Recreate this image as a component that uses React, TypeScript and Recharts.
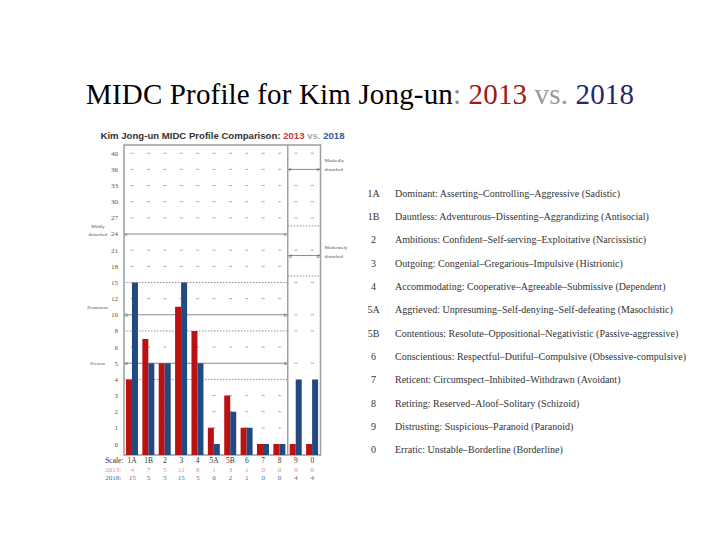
import React from 'react';
import { BarChart, Bar, XAxis, YAxis, ReferenceLine, ReferenceArea } from 'recharts';

const categories = ['1A', '1B', '2', '3', '4', '5A', '5B', '6', '7', '8', '9', '0'];
const scores2013 = [4, 7, 5, 11, 8, 1, 3, 1, 0, 0, 0, 0];
const scores2018 = [15, 5, 5, 15, 5, 0, 2, 1, 0, 0, 4, 4];
const yTicks = [0, 1, 2, 3, 4, 5, 6, 8, 10, 12, 15, 18, 21, 24, 27, 30, 33, 36, 40];
const scaleDescriptions = [
  'Dominant: Asserting–Controlling–Aggressive  (Sadistic)',
  'Dauntless: Adventurous–Dissenting–Aggrandizing (Antisocial)',
  'Ambitious: Confident–Self-serving–Exploitative (Narcissistic)',
  'Outgoing: Congenial–Gregarious–Impulsive  (Histrionic)',
  'Accommodating: Cooperative–Agreeable–Submissive  (Dependent)',
  'Aggrieved: Unpresuming–Self-denying–Self-defeating (Masochistic)',
  'Contentious: Resolute–Oppositional–Negativistic (Passive-aggressive)',
  'Conscientious: Respectful–Dutiful–Compulsive (Obsessive-compulsive)',
  'Reticent: Circumspect–Inhibited–Withdrawn (Avoidant)',
  'Retiring: Reserved–Aloof–Solitary (Schizoid)',
  'Distrusting: Suspicious–Paranoid (Paranoid)',
  'Erratic: Unstable–Borderline (Borderline)',
];
// threshold lines: section 'main' = scales 1A..8, 'severe' = scales 9 and 0
const solidThresholds = [
  { level: 24, section: 'main', mark: 'c', side: 'left', note: ['Mildly', 'disturbed'] },
  { level: 10, section: 'main', mark: 'b', side: 'left', note: ['Prominent'] },
  { level: 5, section: 'main', mark: 'a', side: 'left', note: ['Present'] },
  { level: 36, section: 'severe', mark: 'e', side: 'right', note: ['Markedly', 'disturbed'] },
  { level: 20, section: 'severe', mark: 'd', side: 'right', note: ['Moderately', 'disturbed'] },
];
const dottedThresholds = [
  { level: 15, section: 'main' },
  { level: 8, section: 'main' },
  { level: 4, section: 'main' },
  { level: 25.5, section: 'severe' },
  { level: 16.2, section: 'severe' },
];
const mainDashLevels = [1, 2, 3, 6, 12, 18, 21, 27, 30, 33, 36, 40];
const severeDashLevels = [5, 8, 10, 15, 21, 27, 30, 33, 40];

const SERIF = "'Liberation Serif', 'Times New Roman', serif";
const SANS = "'Liberation Sans', Arial, sans-serif";
const RED = '#bd1010';
const BLUE = '#234a80';
const BASE = 0.68;
const TOP = 18 + BASE + 0.51;
const MAIN_COUNT = categories.indexOf('9');
const N = categories.length;
const PLOT_LEFT = 124;
const PLOT_RIGHT = 320.5;
const COL_W = (PLOT_RIGHT - PLOT_LEFT) / N;

function toPos(v: number): number {
  for (let i = 0; i < yTicks.length - 1; i++) {
    const a = yTicks[i];
    const b = yTicks[i + 1];
    if (v <= b) return BASE + i + (v - a) / (b - a);
  }
  return BASE + yTicks.length - 1;
}

const data = categories.map((c, i) => ({
  cat: c,
  slot: i + 0.5,
  p2013: toPos(scores2013[i]),
  p2018: toPos(scores2018[i]),
}));

const yTickPos = yTicks.map(toPos);

const span = (section: string): [number, number] =>
  section === 'main' ? [0, MAIN_COUNT] : [MAIN_COUNT, N];

const TableTick = (props: any) => {
  const { x, y, payload } = props;
  const i = categories.indexOf(payload.value);
  return (
    <g fontFamily={SERIF}>
      {i === 0 && (
        <g>
          <text x={x - 27} y={y + 7.7} fontSize={7.5} fill="#333">Scale:</text>
          <text x={x - 27} y={y + 16.5} fontSize={7} fill="#d98b85">2013:</text>
          <text x={x - 27} y={y + 25} fontSize={7} fill="#4a6a98">2018:</text>
        </g>
      )}
      <text x={x} y={y + 7.7} textAnchor="middle" fontSize={7.5} fill="#333">{categories[i]}</text>
      <text x={x} y={y + 16.5} textAnchor="middle" fontSize={7} fill="#d98b85">{scores2013[i]}</text>
      <text x={x} y={y + 25} textAnchor="middle" fontSize={7} fill="#4a6a98">{scores2018[i]}</text>
    </g>
  );
};

const makeMarkLabel = (t: any) => (props: any) => {
  const vb = props.viewBox || {};
  const x0 = vb.x ?? 0;
  const y0 = vb.y ?? 0;
  const w = vb.width ?? 0;
  const noteLines: string[] = t.note;
  return (
    <g fontFamily={SERIF} fill="#555">
      <text x={x0 + 1} y={y0 + 2} fontSize={6}>{t.mark}</text>
      <text x={x0 + w - 1} y={y0 + 2} fontSize={6} textAnchor="end">{t.mark}</text>
      {t.side === 'left' ? (
        noteLines.length === 2 ? (
          <g fontSize={5}>
            <text x={x0 - 26} y={y0 - 6} textAnchor="middle">{noteLines[0]}</text>
            <text x={x0 - 17} y={y0 + 2} textAnchor="end">{noteLines[1]}</text>
          </g>
        ) : t.mark === 'b' ? (
          <text x={x0 - 16} y={y0 - 6} fontSize={5} textAnchor="end">{noteLines[0]}</text>
        ) : (
          <text x={x0 - 19} y={y0 + 2} fontSize={5} textAnchor="end">{noteLines[0]}</text>
        )
      ) : (
        <g fontSize={5}>
          <text x={x0 + w + 4} y={y0 - 7}>{noteLines[0]}</text>
          <text x={x0 + w + 4} y={y0 + 2}>{noteLines[1]}</text>
        </g>
      )}
    </g>
  );
};

const dashPattern = `0 ${COL_W / 2 - 1.5} 3 ${COL_W / 2 - 1.5}`;

export default function App() {
  return (
    <div style={{ position: 'absolute', left: 0, top: 0, width: 720, height: 540, background: '#fff' }}>
      <BarChart
        width={720}
        height={540}
        data={data}
        margin={{ top: 145, right: 720 - PLOT_RIGHT, bottom: 55, left: PLOT_LEFT - 30 }}
        barCategoryGap="12%"
        barGap={0}
      >
        <XAxis
          xAxisId="cat"
          dataKey="cat"
          type="category"
          height={30}
          axisLine={false}
          tickLine={false}
          tickSize={0}
          tickMargin={0}
          interval={0}
          tick={(p: any) => <TableTick {...p} />}
        />
        <XAxis xAxisId="num" dataKey="slot" type="number" domain={[0, N]} allowDataOverflow hide />
        <YAxis
          type="number"
          domain={[0, TOP]}
          allowDataOverflow
          ticks={yTickPos}
          interval={0}
          width={30}
          axisLine={false}
          tickLine={false}
          tickSize={4}
          tickMargin={2}
          tickFormatter={(v: number) => {
            const k = yTickPos.findIndex((p) => Math.abs(p - v) < 1e-6);
            return k >= 0 ? String(yTicks[k]) : '';
          }}
          tick={{ fontSize: 7, fill: '#555', fontFamily: SERIF }}
        />
        {mainDashLevels.map((lv) => (
          <ReferenceLine
            key={'md' + lv}
            xAxisId="num"
            segment={[{ x: 0, y: toPos(lv) }, { x: MAIN_COUNT, y: toPos(lv) }]}
            stroke="#aaa"
            strokeWidth={1}
            strokeDasharray={dashPattern}
            zIndex={100}
            ifOverflow="visible"
          />
        ))}
        {severeDashLevels.map((lv) => (
          <ReferenceLine
            key={'sd' + lv}
            xAxisId="num"
            segment={[{ x: MAIN_COUNT, y: toPos(lv) }, { x: N, y: toPos(lv) }]}
            stroke="#aaa"
            strokeWidth={1}
            strokeDasharray={dashPattern}
            zIndex={100}
            ifOverflow="visible"
          />
        ))}
        {dottedThresholds.map((t) => {
          const [a, b] = span(t.section);
          return (
            <ReferenceLine
              key={'dt' + t.level}
              xAxisId="num"
              segment={[{ x: a, y: toPos(t.level) }, { x: b, y: toPos(t.level) }]}
              stroke="#8f8f8f"
              strokeWidth={1}
              strokeDasharray="1.5 1.5"
              zIndex={100}
              ifOverflow="visible"
            />
          );
        })}
        {solidThresholds.map((t) => {
          const [a, b] = span(t.section);
          return (
            <ReferenceLine
              key={'st' + t.level}
              xAxisId="num"
              segment={[{ x: a, y: toPos(t.level) }, { x: b, y: toPos(t.level) }]}
              stroke="#8a8a8a"
              strokeWidth={1}
              zIndex={100}
              ifOverflow="visible"
              label={makeMarkLabel(t)}
            />
          );
        })}
        <Bar xAxisId="cat" dataKey="p2013" fill={RED} isAnimationActive={false} />
        <Bar xAxisId="cat" dataKey="p2018" fill={BLUE} isAnimationActive={false} />
        <ReferenceLine xAxisId="num" x={MAIN_COUNT} stroke="#a0a0a0" strokeWidth={1.5} ifOverflow="visible" />
        <ReferenceArea
          xAxisId="num"
          x1={0}
          x2={N}
          y1={0}
          y2={TOP}
          fill="none"
          fillOpacity={0}
          stroke="#9c9c9c"
          strokeWidth={1.5}
          ifOverflow="visible"
        />
      </BarChart>
      <svg width={720} height={540} style={{ position: 'absolute', left: 0, top: 0, pointerEvents: 'none' }}>
        <text x={86} y={103.5} fontFamily={SERIF} fontSize={29} fill="#000" textLength={548} lengthAdjust="spacing">
          MIDC Profile for Kim Jong-un
          <tspan fill="#8a8a8a">: </tspan>
          <tspan fill="#a01818">2013</tspan>
          <tspan fill="#9a9a9a"> vs. </tspan>
          <tspan fill="#26266e">2018</tspan>
        </text>
        <text x={100.5} y={139} fontFamily={SANS} fontWeight="bold" fontSize={9.6} fill="#333" textLength={244} lengthAdjust="spacing">
          Kim Jong-un MIDC Profile Comparison:
          <tspan fill="#c83a3a"> 2013</tspan>
          <tspan fill="#aaa"> vs. </tspan>
          <tspan fill="#2f5c9a">2018</tspan>
        </text>
        {categories.map((c, i) => (
          <g key={c} fontFamily={SERIF} fontSize={10} fill="#333">
            <text x={373.5} y={196.8 + i * 23.32} textAnchor="middle">{c}</text>
            <text x={395} y={196.8 + i * 23.32}>{scaleDescriptions[i]}</text>
          </g>
        ))}
      </svg>
    </div>
  );
}
